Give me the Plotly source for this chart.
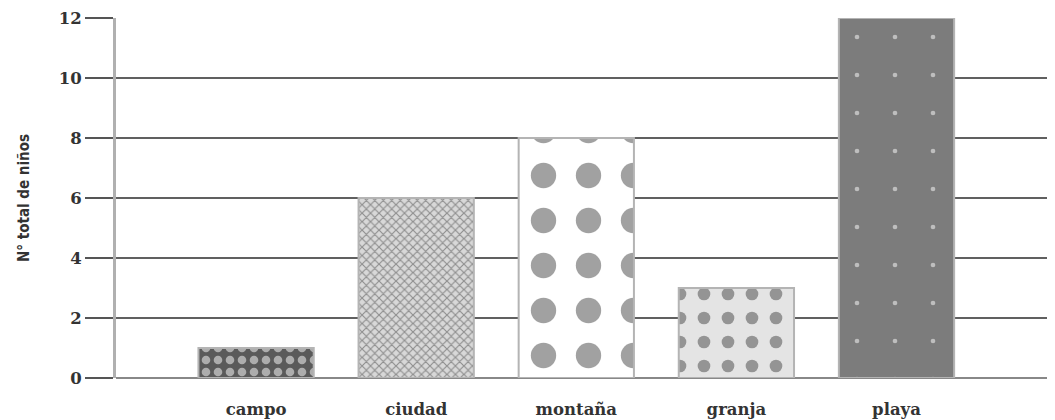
import plotly.graph_objects as go

categories = ["campo", "ciudad", "montaña", "granja", "playa"]
values = [1, 6, 8, 3, 12]
y_ticks = [0, 2, 4, 6, 8, 10, 12]

patterns = [".", "x", ".", ".", "."]
bg_colors = ["#5a5a5a", "#d8d8d8", "#ffffff", "#e4e4e4", "#7c7c7c"]
fg_colors = ["#9c9c9c", "#9a9a9a", "#858585", "#808080", "#2a2a2a"]
pattern_sizes = [12, 6, 45, 24, 38]
pattern_solidity = [0.4, 0.35, 0.25, 0.22, 0.012]

fig = go.Figure(
    go.Bar(
        x=categories,
        y=values,
        marker=dict(
            color=bg_colors,
            line=dict(color="#b4b4b4", width=2),
            pattern=dict(
                shape=patterns,
                fgcolor=fg_colors,
                bgcolor=bg_colors,
                size=pattern_sizes,
                solidity=pattern_solidity,
                fillmode="overlay",
            ),
        ),
        hoverinfo="x+y",
    )
)

serif = "DejaVu Serif"
fig.update_layout(
    width=1055,
    height=420,
    margin=dict(l=108, r=0, t=10, b=50),
    paper_bgcolor="white",
    plot_bgcolor="white",
    bargap=0.28,
    showlegend=False,
    xaxis=dict(
        range=[-0.875, 5.04],
        showgrid=False,
        showline=False,
        ticks="",
        tickfont=dict(family=serif, size=16.5, color="#333333", weight="bold"),
        ticklabelstandoff=19,
        zeroline=False,
    ),
    yaxis=dict(
        range=[0, 12],
        tickvals=y_ticks,
        showgrid=True,
        gridcolor="#606060",
        gridwidth=1.5,
        zeroline=True,
        zerolinecolor="#888888",
        zerolinewidth=2,
        showline=True,
        linecolor="#b0b0b0",
        linewidth=3,
        ticks="outside",
        ticklen=28,
        tickwidth=1.5,
        tickcolor="#555555",
        ticklabeloverflow="allow",
        tickfont=dict(family=serif, size=16.5, color="#333333", weight="bold"),
        title=dict(
            text="N° total de niños",
            font=dict(family="Liberation Sans Narrow, DejaVu Sans Condensed, sans-serif",
                      size=15, color="#333333", weight="bold"),
            standoff=26,
        ),
    ),
)

fig.write_html("out.html")
